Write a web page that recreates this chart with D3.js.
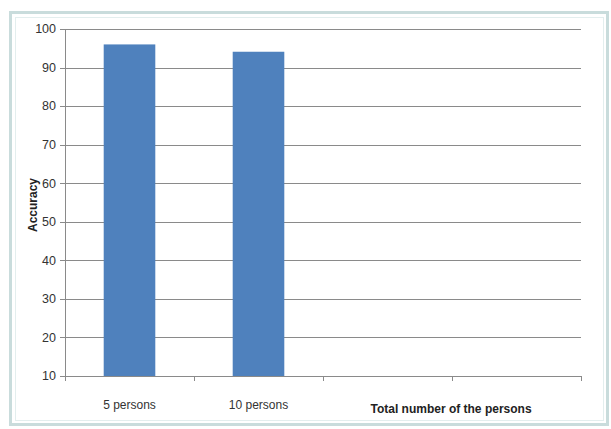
<!DOCTYPE html>
<html>
<head>
<meta charset="utf-8">
<script src="https://cdn.jsdelivr.net/npm/d3@7"></script>
<style>
  body { margin: 0; background: #fff; }
  svg { font-family: "Liberation Sans", "DejaVu Sans", sans-serif; }
</style>
</head>
<body>
<div class="chart"></div>
<script>
const categories = ["5 persons", "10 persons", "", ""];
const accuracy = [96, 94.1, null, null];
const yTicks = [10, 20, 30, 40, 50, 60, 70, 80, 90, 100];

const width = 611;
const height = 429;
const margin = { top: 29, right: 30, bottom: 53, left: 65 };

const svg = d3.select(".chart")
  .append("svg")
  .attr("width", width)
  .attr("height", height);

// outer chart frame
svg.append("rect")
  .attr("x", 10.5).attr("y", 12.5)
  .attr("width", 597).attr("height", 412)
  .attr("fill", "#fff")
  .attr("stroke", "#c9dcdc")
  .attr("stroke-width", 3);
svg.append("rect")
  .attr("x", 15.5).attr("y", 17.5)
  .attr("width", 588).attr("height", 403)
  .attr("fill", "none")
  .attr("stroke", "#e3eeee")
  .attr("stroke-width", 1);

const x = d3.scaleBand()
  .domain(d3.range(categories.length))
  .range([margin.left, width - margin.right])
  .paddingInner(0.6)
  .paddingOuter(0.3);

const xOuter = d3.scaleBand()
  .domain(d3.range(categories.length))
  .range([margin.left, width - margin.right]);

const y = d3.scaleLinear()
  .domain([10, 100])
  .range([height - margin.bottom, margin.top]);

// gridlines
svg.append("g")
  .selectAll("line")
  .data(yTicks)
  .enter()
  .append("line")
  .attr("x1", margin.left - 5)
  .attr("x2", width - margin.right)
  .attr("y1", d => Math.round(y(d)) + 0.5)
  .attr("y2", d => Math.round(y(d)) + 0.5)
  .attr("stroke", "#8a8a8a")
  .attr("stroke-width", 1);

// y axis line
svg.append("line")
  .attr("x1", margin.left + 0.5).attr("x2", margin.left + 0.5)
  .attr("y1", margin.top).attr("y2", height - margin.bottom)
  .attr("stroke", "#8a8a8a");

// y tick labels
svg.append("g")
  .selectAll("text")
  .data(yTicks)
  .enter()
  .append("text")
  .attr("x", margin.left - 9)
  .attr("y", d => y(d))
  .attr("dy", "0.35em")
  .attr("text-anchor", "end")
  .attr("font-size", "12.5px")
  .attr("fill", "#333")
  .text(d => d);

// x category ticks
const xTickPos = d3.range(categories.length + 1).map(i =>
  i < categories.length ? xOuter(i) : xOuter(categories.length - 1) + xOuter.bandwidth());
svg.append("g")
  .selectAll("line")
  .data(xTickPos)
  .enter()
  .append("line")
  .attr("x1", d => Math.round(d) + 0.5)
  .attr("x2", d => Math.round(d) + 0.5)
  .attr("y1", height - margin.bottom)
  .attr("y2", height - margin.bottom + 5)
  .attr("stroke", "#8a8a8a");

// bars
svg.append("g")
  .selectAll("rect")
  .data(accuracy.map((v, i) => ({ v, i })).filter(d => d.v != null))
  .enter()
  .append("rect")
  .attr("x", d => x(d.i))
  .attr("width", x.bandwidth())
  .attr("y", d => y(d.v))
  .attr("height", d => y(10) - y(d.v))
  .attr("fill", "#4f81bd");

// category labels
svg.append("g")
  .selectAll("text")
  .data(categories)
  .enter()
  .append("text")
  .attr("x", (d, i) => xOuter(i) + xOuter.bandwidth() / 2)
  .attr("y", height - margin.bottom + 33)
  .attr("text-anchor", "middle")
  .attr("font-size", "12px")
  .attr("fill", "#333")
  .text(d => d);

// x axis title
svg.append("text")
  .attr("x", 451)
  .attr("y", height - margin.bottom + 37)
  .attr("text-anchor", "middle")
  .attr("font-size", "12px")
  .attr("font-weight", "bold")
  .attr("fill", "#222")
  .text("Total number of the persons");

// y axis title
svg.append("text")
  .attr("transform", "translate(37,205) rotate(-90)")
  .attr("text-anchor", "middle")
  .attr("font-size", "12px")
  .attr("font-weight", "bold")
  .attr("fill", "#222")
  .text("Accuracy");
</script>
</body>
</html>
